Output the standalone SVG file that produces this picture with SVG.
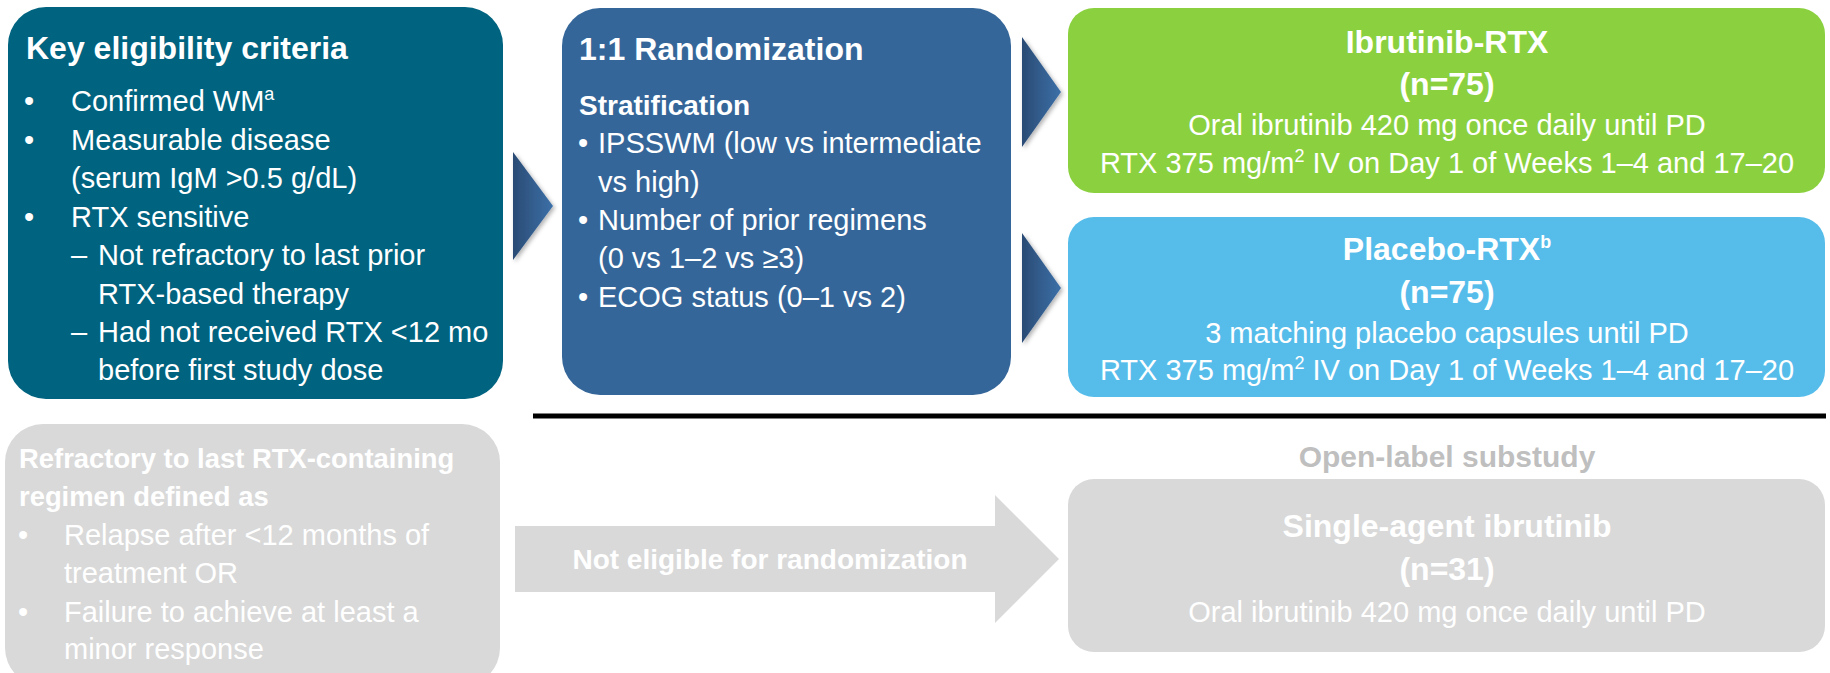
<svg xmlns="http://www.w3.org/2000/svg" width="1830" height="673" viewBox="0 0 1830 673">
<defs>
<linearGradient id="triGrad" x1="0" y1="0" x2="1" y2="0">
<stop offset="0" stop-color="#2A4B74"/>
<stop offset="1" stop-color="#3C70A8"/>
</linearGradient>
<filter id="shadow" x="-30%" y="-30%" width="160%" height="160%">
<feDropShadow dx="2" dy="2" stdDeviation="2" flood-color="#000" flood-opacity="0.3"/>
</filter>
<style>
text{font-family:"Liberation Sans",Arial,sans-serif;fill:#fff}
.t32b{font-size:32px;font-weight:bold}
.t28b{font-size:28px;font-weight:bold}
.t29{font-size:29px}
.mid{text-anchor:middle}
.sup{font-size:18px}
.gry{fill:#BFBFBF}
</style>
</defs>
<rect width="1830" height="673" fill="#fff"/>

<g id="node-eligibility">
<rect x="8" y="7" width="495" height="392" rx="38" fill="#00637F"/>
<text class="t32b" x="26" y="59">Key eligibility criteria</text>
<g class="t29">
<text x="24" y="111">•</text><text x="71" y="111">Confirmed WM<tspan class="sup" dy="-11">a</tspan></text>
<text x="24" y="150">•</text><text x="71" y="150">Measurable disease</text>
<text x="71" y="188">(serum IgM &gt;0.5 g/dL)</text>
<text x="24" y="227">•</text><text x="71" y="227">RTX sensitive</text>
<text x="71" y="265">–</text><text x="98" y="265">Not refractory to last prior</text>
<text x="98" y="304">RTX-based therapy</text>
<text x="71" y="342">–</text><text x="98" y="342">Had not received RTX &lt;12 mo</text>
<text x="98" y="380">before first study dose</text>
</g>
</g>

<g id="node-randomization">
<rect x="562" y="8" width="449" height="387" rx="38" fill="#356699"/>
<text class="t32b" x="579" y="60">1:1 Randomization</text>
<text class="t28b" x="579" y="115">Stratification</text>
<g class="t29">
<text x="578" y="153">•</text><text x="598" y="153">IPSSWM (low vs intermediate</text>
<text x="598" y="192">vs high)</text>
<text x="578" y="230">•</text><text x="598" y="230">Number of prior regimens</text>
<text x="598" y="268">(0 vs 1–2 vs ≥3)</text>
<text x="578" y="307">•</text><text x="598" y="307">ECOG status (0–1 vs 2)</text>
</g>
</g>

<g id="node-ibrutinib-rtx">
<rect x="1068" y="8" width="757" height="185" rx="26" fill="#8BD13F"/>
<text class="t32b mid" x="1447" y="53">Ibrutinib-RTX</text>
<text class="t32b mid" x="1447" y="95">(n=75)</text>
<text class="t29 mid" x="1447" y="135">Oral ibrutinib 420 mg once daily until PD</text>
<text class="t29 mid" x="1447" y="173">RTX 375 mg/m<tspan class="sup" dy="-11">2</tspan><tspan dy="11"> IV on Day 1 of Weeks 1–4 and 17–20</tspan></text>
</g>

<g id="node-placebo-rtx">
<rect x="1068" y="217" width="757" height="180" rx="26" fill="#56BDEB"/>
<text class="t32b mid" x="1447" y="260">Placebo-RTX<tspan class="sup" dy="-12">b</tspan></text>
<text class="t32b mid" x="1447" y="303">(n=75)</text>
<text class="t29 mid" x="1447" y="343">3 matching placebo capsules until PD</text>
<text class="t29 mid" x="1447" y="380">RTX 375 mg/m<tspan class="sup" dy="-11">2</tspan><tspan dy="11"> IV on Day 1 of Weeks 1–4 and 17–20</tspan></text>
</g>

<g id="node-refractory">
<rect x="5" y="424" width="495" height="262" rx="38" fill="#D9D9D9"/>
<text class="t28b" x="19" y="468" style="font-size:27.4px">Refractory to last RTX-containing</text>
<text class="t28b" x="19" y="506" style="font-size:27.4px">regimen defined as</text>
<g class="t29">
<text x="18" y="545">•</text><text x="64" y="545">Relapse after &lt;12 months of</text>
<text x="64" y="583">treatment OR</text>
<text x="18" y="622">•</text><text x="64" y="622">Failure to achieve at least a</text>
<text x="64" y="659">minor response</text>
</g>
</g>

<g id="label-open-label">
<text class="t32b mid gry" x="1447" y="467" style="font-size:30px">Open-label substudy</text>
</g>

<g id="node-single-agent">
<rect x="1068" y="479" width="757" height="173" rx="26" fill="#D9D9D9"/>
<text class="t32b mid" x="1447" y="537">Single-agent ibrutinib</text>
<text class="t32b mid" x="1447" y="580">(n=31)</text>
<text class="t29 mid" x="1447" y="622">Oral ibrutinib 420 mg once daily until PD</text>
</g>

<g id="connectors">
<polygon points="513,152 553,206 513,260" fill="url(#triGrad)" filter="url(#shadow)"/>
<polygon points="1022,37 1061,92 1022,147" fill="url(#triGrad)" filter="url(#shadow)"/>
<polygon points="1022,233 1061,288 1022,343" fill="url(#triGrad)" filter="url(#shadow)"/>
<polygon points="515,526 995,526 995,495 1059,559 995,623 995,592 515,592" fill="#D9D9D9"/>
<text class="t28b mid" x="770" y="569">Not eligible for randomization</text>
<line x1="533" y1="416" x2="1826" y2="416" stroke="#000" stroke-width="5"/>
</g>
</svg>
